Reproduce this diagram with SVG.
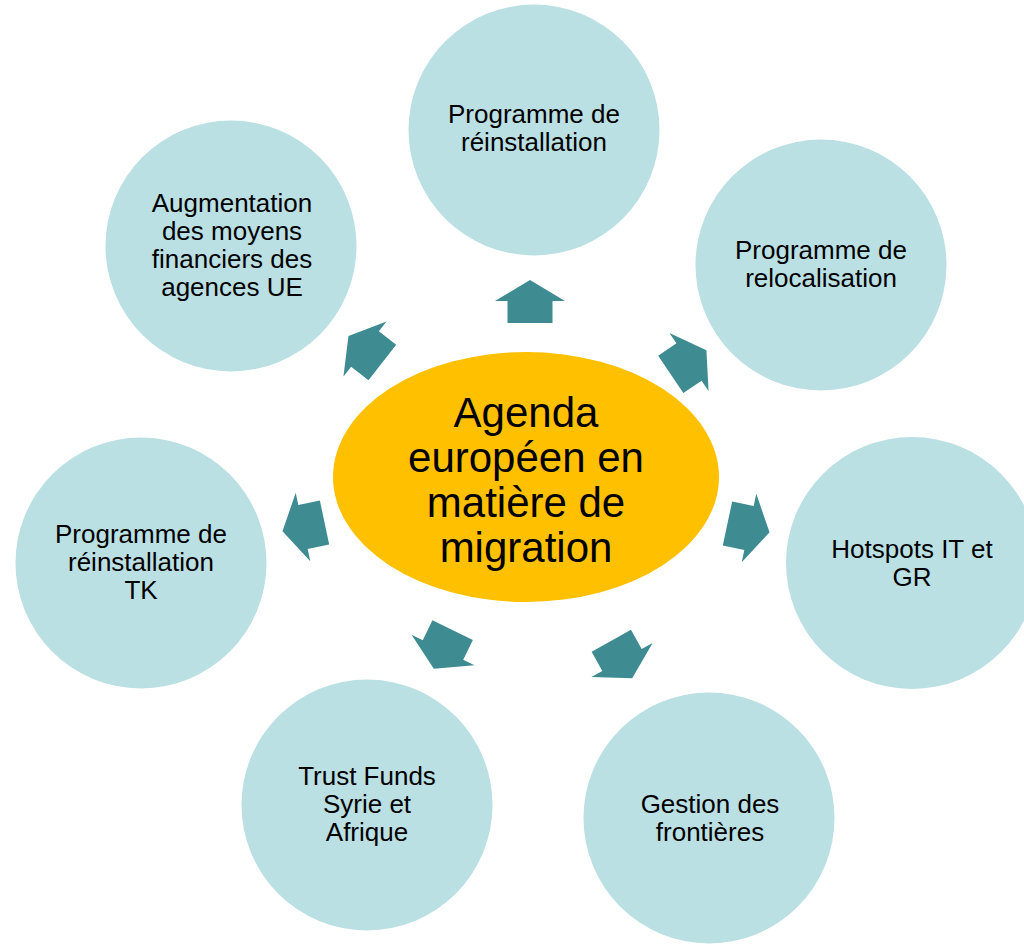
<svg xmlns="http://www.w3.org/2000/svg" width="1024" height="944" viewBox="0 0 1024 944">
<style>
.c{fill:#BBE0E3}
.t{font-family:"Liberation Sans",Arial,sans-serif;font-size:26px;fill:#000;text-anchor:middle}
.ct{font-family:"Liberation Sans",Arial,sans-serif;font-size:42px;fill:#000;text-anchor:middle}
.a{fill:#3E8C92}
</style>
<defs>
<path id="arr" d="M0,-21 L35,0 L22.5,0 L22.5,22 L-22.5,22 L-22.5,0 L-35,0 Z"/>
</defs>
<rect width="1024" height="944" fill="#fff"/>
<g id="n1"><circle class="c" cx="534" cy="130" r="125.5"/><text class="t"><tspan x="534" y="123">Programme de</tspan><tspan x="534" y="151">réinstallation</tspan></text></g>
<g id="n2"><circle class="c" cx="821" cy="265" r="125.5"/><text class="t"><tspan x="821" y="259">Programme de</tspan><tspan x="821" y="287">relocalisation</tspan></text></g>
<g id="n3"><circle class="c" cx="912" cy="563" r="126"/><text class="t"><tspan x="912" y="558">Hotspots IT et</tspan><tspan x="912" y="586">GR</tspan></text></g>
<g id="n4"><circle class="c" cx="709" cy="818" r="125.5"/><text class="t"><tspan x="710" y="813">Gestion des</tspan><tspan x="710" y="841">frontières</tspan></text></g>
<g id="n5"><circle class="c" cx="367" cy="805" r="125.5"/><text class="t"><tspan x="367" y="785">Trust Funds</tspan><tspan x="367" y="813">Syrie et</tspan><tspan x="367" y="841">Afrique</tspan></text></g>
<g id="n6"><circle class="c" cx="141" cy="563" r="125.5"/><text class="t"><tspan x="141" y="543">Programme de</tspan><tspan x="141" y="571">réinstallation</tspan><tspan x="141" y="599">TK</tspan></text></g>
<g id="n7"><circle class="c" cx="231" cy="246" r="125.5"/><text class="t"><tspan x="232" y="212">Augmentation</tspan><tspan x="232" y="240">des moyens</tspan><tspan x="232" y="268">financiers des</tspan><tspan x="232" y="296">agences UE</tspan></text></g>
<g id="connectors" class="a">
<use href="#arr" transform="translate(530,301)"/>
<use href="#arr" transform="translate(689,362) rotate(56)"/>
<use href="#arr" transform="translate(749,528) rotate(102)"/>
<use href="#arr" transform="translate(622,660) rotate(151)"/>
<use href="#arr" transform="translate(443,650) rotate(206)"/>
<use href="#arr" transform="translate(303,527) rotate(258)"/>
<use href="#arr" transform="translate(365,349) rotate(-52)"/>
</g>
<g id="center"><ellipse cx="526" cy="477" rx="193" ry="125" fill="#FFC000"/><text class="ct"><tspan x="526" y="427">Agenda</tspan><tspan x="526" y="472">européen en</tspan><tspan x="526" y="517">matière de</tspan><tspan x="526" y="562">migration</tspan></text></g>
</svg>
